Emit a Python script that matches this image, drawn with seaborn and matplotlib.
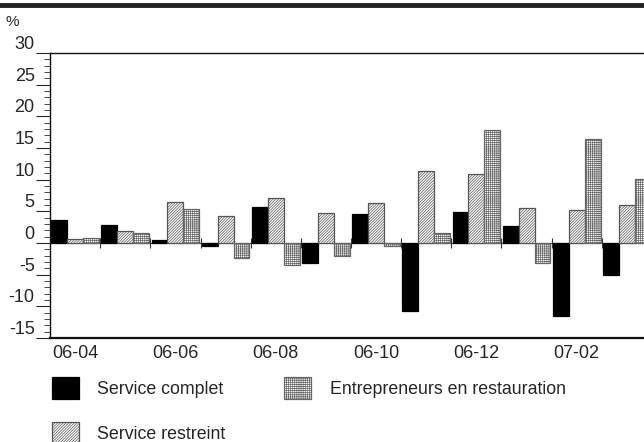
import numpy as np
import pandas as pd
import matplotlib
matplotlib.use("Agg")
import matplotlib.pyplot as plt
from matplotlib.lines import Line2D
import seaborn as sns

months = ["06-04", "06-05", "06-06", "06-07", "06-08", "06-09",
          "06-10", "06-11", "06-12", "07-01", "07-02", "07-03"]
service_complet = [3.6, 2.8, 0.4, -0.4, 5.7, -3.2, 4.6, -10.7, 4.9, 2.7, -11.6, -5.1]
service_restreint = [0.7, 1.9, 6.4, 4.2, 7.1, 4.8, 6.3, 11.3, 10.9, 5.6, 5.2, 6.0]
entrepreneurs = [0.8, 1.6, 5.3, -2.4, -3.5, -2.0, -0.5, 1.5, 17.9, -3.1, 16.4, 10.1]

names = ["Service complet", "Service restreint", "Entrepreneurs en restauration"]
df = pd.DataFrame({
    "mois": months * 3,
    "valeur": service_complet + service_restreint + entrepreneurs,
    "serie": [names[0]] * len(months) + [names[1]] * len(months) + [names[2]] * len(months),
})

sns.set_style("white")
plt.rcParams["font.family"] = ["Liberation Sans", "DejaVu Sans"]
plt.rcParams["hatch.linewidth"] = 0.5
plt.rcParams["axes.unicode_minus"] = False

fig = plt.figure(figsize=(6.44, 4.42), dpi=100)
W, H = 644, 442
ax = fig.add_axes([50 / W, 1 - 338 / H, 602 / W, (338 - 53) / H])

sns.barplot(data=df, x="mois", y="valeur", hue="serie", hue_order=names,
            palette=["#000000", "#ffffff", "#ffffff"], saturation=1,
            width=0.95, legend=False, ax=ax, errorbar=None)

styles = [
    dict(hatch=None, edgecolor="#000000"),
    dict(hatch="////////////", edgecolor="#555555"),
    dict(hatch="++++++++", edgecolor="#666666"),
]
for cont, st in zip(ax.containers, styles):
    for p in cont:
        p.set_edgecolor(st["edgecolor"])
        p.set_linewidth(0.9)
        if st["hatch"]:
            p.set_hatch(st["hatch"])

ax.set_xlim(-0.5, len(months) - 0.5)
ax.set_ylim(-15, 30)
ax.axhline(0, color="#333333", lw=0.8, zorder=0.5)
ax.vlines(np.arange(len(months)) + 0.5, -0.8, 0.8, color="#333333", lw=0.8)

ax.set_xlabel("")
ax.set_ylabel("")
ax.set_xticks(range(0, len(months), 2))
ax.set_xticklabels(months[::2])
ax.tick_params(axis="x", length=0, pad=5, labelsize=13)
ax.set_yticks(range(-15, 31, 5))
ax.set_yticks(range(-15, 31, 1), minor=True)
ax.tick_params(axis="y", which="major", direction="out", length=10, width=0.8,
               left=True, pad=1, labelsize=13)
ax.tick_params(axis="y", which="minor", direction="out", length=4, width=0.6, left=True)
for lab in ax.get_yticklabels():
    lab.set_va("bottom")

for s in ["left", "bottom", "top"]:
    ax.spines[s].set_visible(True)
    ax.spines[s].set_color("#111111")
ax.spines["left"].set_linewidth(1.0)
ax.spines["bottom"].set_linewidth(1.6)
ax.spines["top"].set_linewidth(1.0)
ax.spines["right"].set_visible(False)

# thick rule at top of figure
fig.add_artist(Line2D([0, 1], [1 - 4.5 / H, 1 - 4.5 / H], transform=fig.transFigure,
                      color="#222222", lw=3.5))
fig.text(5 / W, 1 - 22 / H, "%", fontsize=11, va="center", ha="left")

handles = [cont[0] for cont in ax.containers]
fig.legend(handles, names, loc="upper left", bbox_to_anchor=(52 / W, 1 - 377 / H),
           ncol=2, frameon=False, fontsize=12.8, borderpad=0, borderaxespad=0,
           handlelength=1.5, handleheight=1.5, handletextpad=1.05,
           columnspacing=3.3, labelspacing=1.3)

fig.savefig("out.png", dpi=100)
